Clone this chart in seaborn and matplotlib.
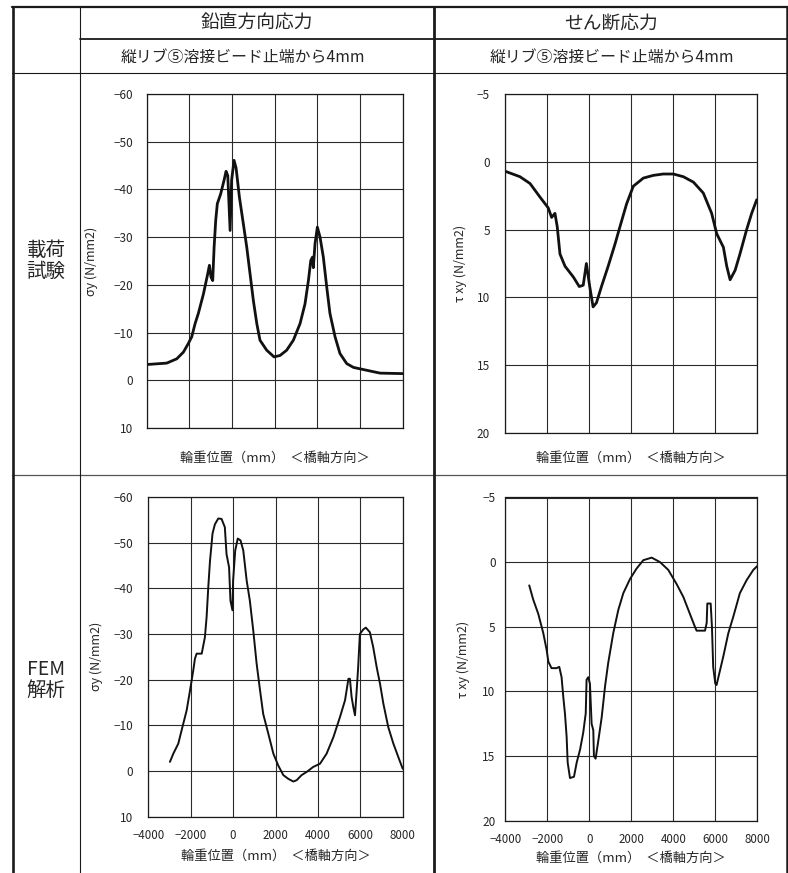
import seaborn as sns
import matplotlib.pyplot as plt
import pandas as pd
from matplotlib.lines import Line2D

# 載荷試験 鉛直方向応力 σy
test_sy_x = [-4000, -3060, -2590, -2280, -2050, -1890, -1730, -1580, -1340, -1140, -1060, -985, -906,
             -840, -765, -690, -530, -375, -280, -200, -90, -20, 94, 190, 345, 530, 690, 845, 1000,
             1160, 1310, 1625, 1970, 2250, 2560, 2875, 3190, 3420, 3580, 3690, 3770, 3810, 3890,
             4000, 4125, 4280, 4440, 4590, 4830, 5060, 5375, 5690, 6310, 6940, 8000]
test_sy_y = [-3.3, -3.6, -4.5, -5.9, -7.7, -9.1, -11.9, -14.0, -18.1, -22.3, -24.1, -21.6, -20.9,
             -27.9, -33.5, -37.0, -39.1, -41.9, -43.8, -42.9, -31.4, -41.9, -46.1, -44.5, -38.4, -32.8,
             -27.9, -22.3, -16.7, -11.9, -8.4, -6.3, -4.9, -5.2, -6.3, -8.4, -11.9, -16.0, -20.9,
             -25.1, -25.8, -23.6, -28.6, -32.1, -30.0, -25.8, -19.5, -14.0, -9.1, -5.6, -3.5, -2.7,
             -2.1, -1.5, -1.4]

# 載荷試験 せん断応力 τxy
test_txy_x = [-4000, -3300, -2820, -2345, -1950, -1790, -1630, -1520, -1390, -1150, -750, -470, -280,
              -130, 30, 190, 350, 590, 910, 1230, 1470, 1790, 2110, 2590, 3070, 3540, 4020, 4500,
              4980, 5450, 5850, 6090, 6410, 6570, 6730, 6970, 7200, 7520, 7760, 8000]
test_txy_y = [0.7, 1.1, 1.6, 2.6, 3.4, 4.1, 3.8, 4.8, 6.8, 7.7, 8.5, 9.2, 9.1, 7.5, 9.2, 10.7, 10.4,
              9.2, 7.7, 6.1, 4.8, 3.1, 1.8, 1.2, 1.0, 0.9, 0.9, 1.1, 1.5, 2.3, 3.8, 5.3, 6.3, 7.7,
              8.7, 8.0, 6.8, 5.0, 3.8, 2.8]

# FEM解析 鉛直方向応力 σy
fem_sy_x = [-2980, -2820, -2585, -2430, -2190, -2030, -1880, -1800, -1720, -1480, -1330, -1250, -1170,
            -1090, -970, -860, -700, -545, -390, -310, -190, -125, -30, 0, 100, 220, 350, 480, 640,
            790, 950, 1110, 1270, 1420, 1660, 1900, 2130, 2370, 2600, 2840, 3000, 3230, 3470, 3780,
            4100, 4410, 4730, 5040, 5280, 5440, 5510, 5590, 5670, 5750, 5830, 5900, 5980, 6140,
            6260, 6450, 6610, 6770, 6930, 7090, 7320, 7560, 7790, 8000]
fem_sy_y = [-2.0, -3.8, -6.0, -8.9, -13.3, -17.7, -22.0, -24.6, -25.7, -25.7, -29.3, -33.7, -40.3,
            -46.0, -52.0, -54.0, -55.3, -55.2, -53.4, -47.5, -44.6, -37.3, -35.2, -41.7, -48.3,
            -50.9, -50.5, -48.3, -41.7, -37.3, -30.8, -23.5, -17.7, -12.5, -8.2, -3.8, -1.2, 0.9,
            1.7, 2.3, 2.0, 0.9, 0.2, -0.9, -1.6, -3.8, -7.4, -11.8, -15.5, -20.2, -20.2, -16.2,
            -14.0, -12.2, -17.7, -22.8, -30.0, -31.0, -31.4, -30.4, -27.1, -22.8, -19.1, -14.7,
            -9.6, -6.0, -3.1, -0.5]

# FEM解析 せん断応力 τxy
fem_txy_x = [-2860, -2670, -2430, -2190, -2030, -1950, -1800, -1560, -1430, -1320, -1240, -1160,
             -1080, -1030, -920, -730, -600, -440, -290, -170, -130, -50, 30, 110, 190, 220, 300,
             430, 590, 750, 900, 1140, 1380, 1620, 1940, 2250, 2570, 2970, 3370, 3760, 4160, 4480,
             4790, 5030, 5110, 5510, 5590, 5620, 5780, 5840, 5900, 6000, 6060, 6220, 6380, 6620,
             6860, 7170, 7490, 7810, 8000]
fem_txy_y = [1.8, 2.9, 4.0, 5.5, 6.8, 7.7, 8.2, 8.2, 8.1, 8.9, 10.4, 11.7, 13.5, 15.5, 16.7, 16.6,
             15.5, 14.5, 13.2, 11.7, 9.1, 8.9, 9.4, 12.5, 13.0, 15.0, 15.2, 13.8, 12.0, 9.6, 7.8,
             5.5, 3.7, 2.4, 1.3, 0.5, -0.15, -0.35, 0.0, 0.6, 1.7, 2.7, 4.0, 5.0, 5.3, 5.3, 4.7,
             3.2, 3.2, 5.0, 8.1, 9.4, 9.5, 8.4, 7.3, 5.5, 4.2, 2.4, 1.4, 0.6, 0.3]

x_ticks = [-4000, -2000, 0, 2000, 4000, 6000, 8000]
x_ticklabels = ["−4000", "−2000", "0", "2000", "4000", "6000", "8000"]
sy_ticks = [-60, -50, -40, -30, -20, -10, 0, 10]
sy_ticklabels = ["−60", "−50", "−40", "−30", "−20", "−10", "0", "10"]
txy_ticks = [-5, 0, 5, 10, 15, 20]
txy_ticklabels = ["−5", "0", "5", "10", "15", "20"]

col_titles = ["鉛直方向応力", "せん断応力"]
sub_title = "縦リブ⑤溶接ビード止端から4mm"
row_titles = ["載荷\n試験", "FEM\n解析"]
x_label = "輪重位置（mm）  ＜橋軸方向＞"
sy_label = "σy (N/mm2)"
txy_label = "τ xy (N/mm2)"

sns.set_style("white")
plt.rcParams['font.family'] = ['Noto Sans CJK JP', 'DejaVu Sans']

W, H = 788, 873
fig = plt.figure(figsize=(W / 100, H / 100), dpi=100)


def fx(x):
    return x / W


def fy(y):
    return 1 - y / H


def hline(y, x0, x1, lw, color="#1a1a1a"):
    fig.add_artist(Line2D([fx(x0), fx(x1)], [fy(y), fy(y)], lw=lw, color=color, transform=fig.transFigure))


def vline(x, y0, y1, lw, color="#1a1a1a"):
    fig.add_artist(Line2D([fx(x), fx(x)], [fy(y0), fy(y1)], lw=lw, color=color, transform=fig.transFigure))


# table frame
hline(7, 12, 788, 1.6)
hline(39, 80, 788, 1.3)
hline(73, 12, 788, 0.8)
hline(475, 12, 788, 0.9, "#555555")
vline(13, 7, 873, 1.9)
vline(80, 7, 873, 0.8)
vline(434.5, 7, 873, 2.0)
vline(787, 7, 873, 1.8)

for cx, sx, t in zip([257, 611], [243, 612], col_titles):
    fig.text(fx(cx), fy(23), t, ha="center", va="center", fontsize=13.5)
    fig.text(fx(sx), fy(57), sub_title, ha="center", va="center", fontsize=11.4)
for cy, t in zip([261, 680], row_titles):
    fig.text(fx(46), fy(cy), t, ha="center", va="center", fontsize=14, linespacing=1.0)


def make_axes(l, r, t, b):
    return fig.add_axes([fx(l), fy(b), (r - l) / W, (b - t) / H])


panels = [
    # (rect, x, y, ticks, ticklabels, ylabel, ylabel_x, xlabel_y, ypad, lw, bottom_labels)
    ((146.7, 402.7, 94, 428), test_sy_x, test_sy_y, sy_ticks, sy_ticklabels, sy_label, -0.19, -0.09, 10, 2.0, False),
    ((505.3, 756.7, 94, 433), test_txy_x, test_txy_y, txy_ticks, txy_ticklabels, txy_label, -0.152, -0.074, 11, 2.0, False),
    ((148.3, 402.7, 497, 816.7), fem_sy_x, fem_sy_y, sy_ticks, sy_ticklabels, sy_label, -0.178, -0.125, 11, 1.4, True),
    ((505.3, 757.3, 497.5, 820.7), fem_txy_x, fem_txy_y, txy_ticks, txy_ticklabels, txy_label, -0.14, -0.115, 7, 1.4, True),
]

for rect, xs, ys, yt, ytl, ylab, ylx, xly, ypad, lw, show_x in panels:
    ax = make_axes(*rect)
    df = pd.DataFrame({"x": xs, "y": ys})
    sns.lineplot(data=df, x="x", y="y", ax=ax, color="#111111", lw=lw, sort=False, estimator=None)
    ax.set_xlim(-4000, 8000)
    ax.set_ylim(yt[-1], yt[0])
    ax.set_xticks(x_ticks)
    ax.set_xticklabels(x_ticklabels)
    ax.set_yticks(yt)
    ax.set_yticklabels(ytl)
    ax.grid(True, color="#2a2a2a", lw=0.8)
    for s in ax.spines.values():
        s.set_color("#1a1a1a")
        s.set_linewidth(0.9)
    ax.tick_params(axis="y", length=0, labelsize=8.5, pad=ypad)
    ax.tick_params(axis="x", length=0, labelsize=8.3, pad=9, labelbottom=show_x)
    ax.set_ylabel(ylab, fontsize=9)
    ax.yaxis.set_label_coords(ylx, 0.5)
    ax.set_xlabel(x_label, fontsize=9.5, va="center")
    ax.xaxis.set_label_coords(0.5, xly)

fig.savefig("out.png", dpi=100)
